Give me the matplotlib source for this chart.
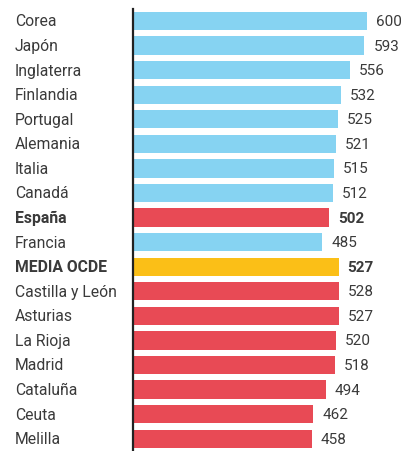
import matplotlib.pyplot as plt
import matplotlib.transforms as mtransforms

labels = ["Corea", "Japón", "Inglaterra", "Finlandia", "Portugal", "Alemania",
          "Italia", "Canadá", "España", "Francia", "MEDIA OCDE", "Castilla y León",
          "Asturias", "La Rioja", "Madrid", "Cataluña", "Ceuta", "Melilla"]
values = [600, 593, 556, 532, 525, 521, 515, 512, 502, 485, 527, 528,
          527, 520, 518, 494, 462, 458]
groups = ["pais"] * 8 + ["espana", "pais", "ocde"] + ["region"] * 7

colors = {"pais": "#86d3f2", "espana": "#e84a55", "ocde": "#fbbf17", "region": "#e84a55"}
bold = {"espana", "ocde"}

plt.rcParams['font.family'] = ['Roboto', 'DejaVu Sans']

fig = plt.figure(figsize=(4.1, 4.52), dpi=100)
ax = fig.add_axes([133 / 410, 0, 277 / 410, 1 - 9.7 / 452])

y = list(range(len(labels)))
ax.barh(y, values, height=0.74, color=[colors[g] for g in groups], zorder=2)

ax.set_ylim(len(labels) - 0.5, -0.5)
ax.set_xlim(0, 710)

trans = mtransforms.blended_transform_factory(ax.transAxes, ax.transData)
for i, (lab, val, g) in enumerate(zip(labels, values, groups)):
    w = 'bold' if g in bold else 'normal'
    ax.text(-118 / 277, i, lab, transform=trans, ha='left', va='center',
            fontsize=11.3, color='#3a3a3a', fontweight=w)
    ax.annotate(str(val), (val, i), xytext=(6.5, 0), textcoords='offset points',
                ha='left', va='center', fontsize=11, color='#3a3a3a', fontweight=w)

for s in ['top', 'right', 'bottom']:
    ax.spines[s].set_visible(False)
ax.spines['left'].set_linewidth(1.6)
ax.spines['left'].set_color('#222222')
ax.set_xticks([])
ax.set_yticks([])

fig.savefig("out.png", dpi=100)
